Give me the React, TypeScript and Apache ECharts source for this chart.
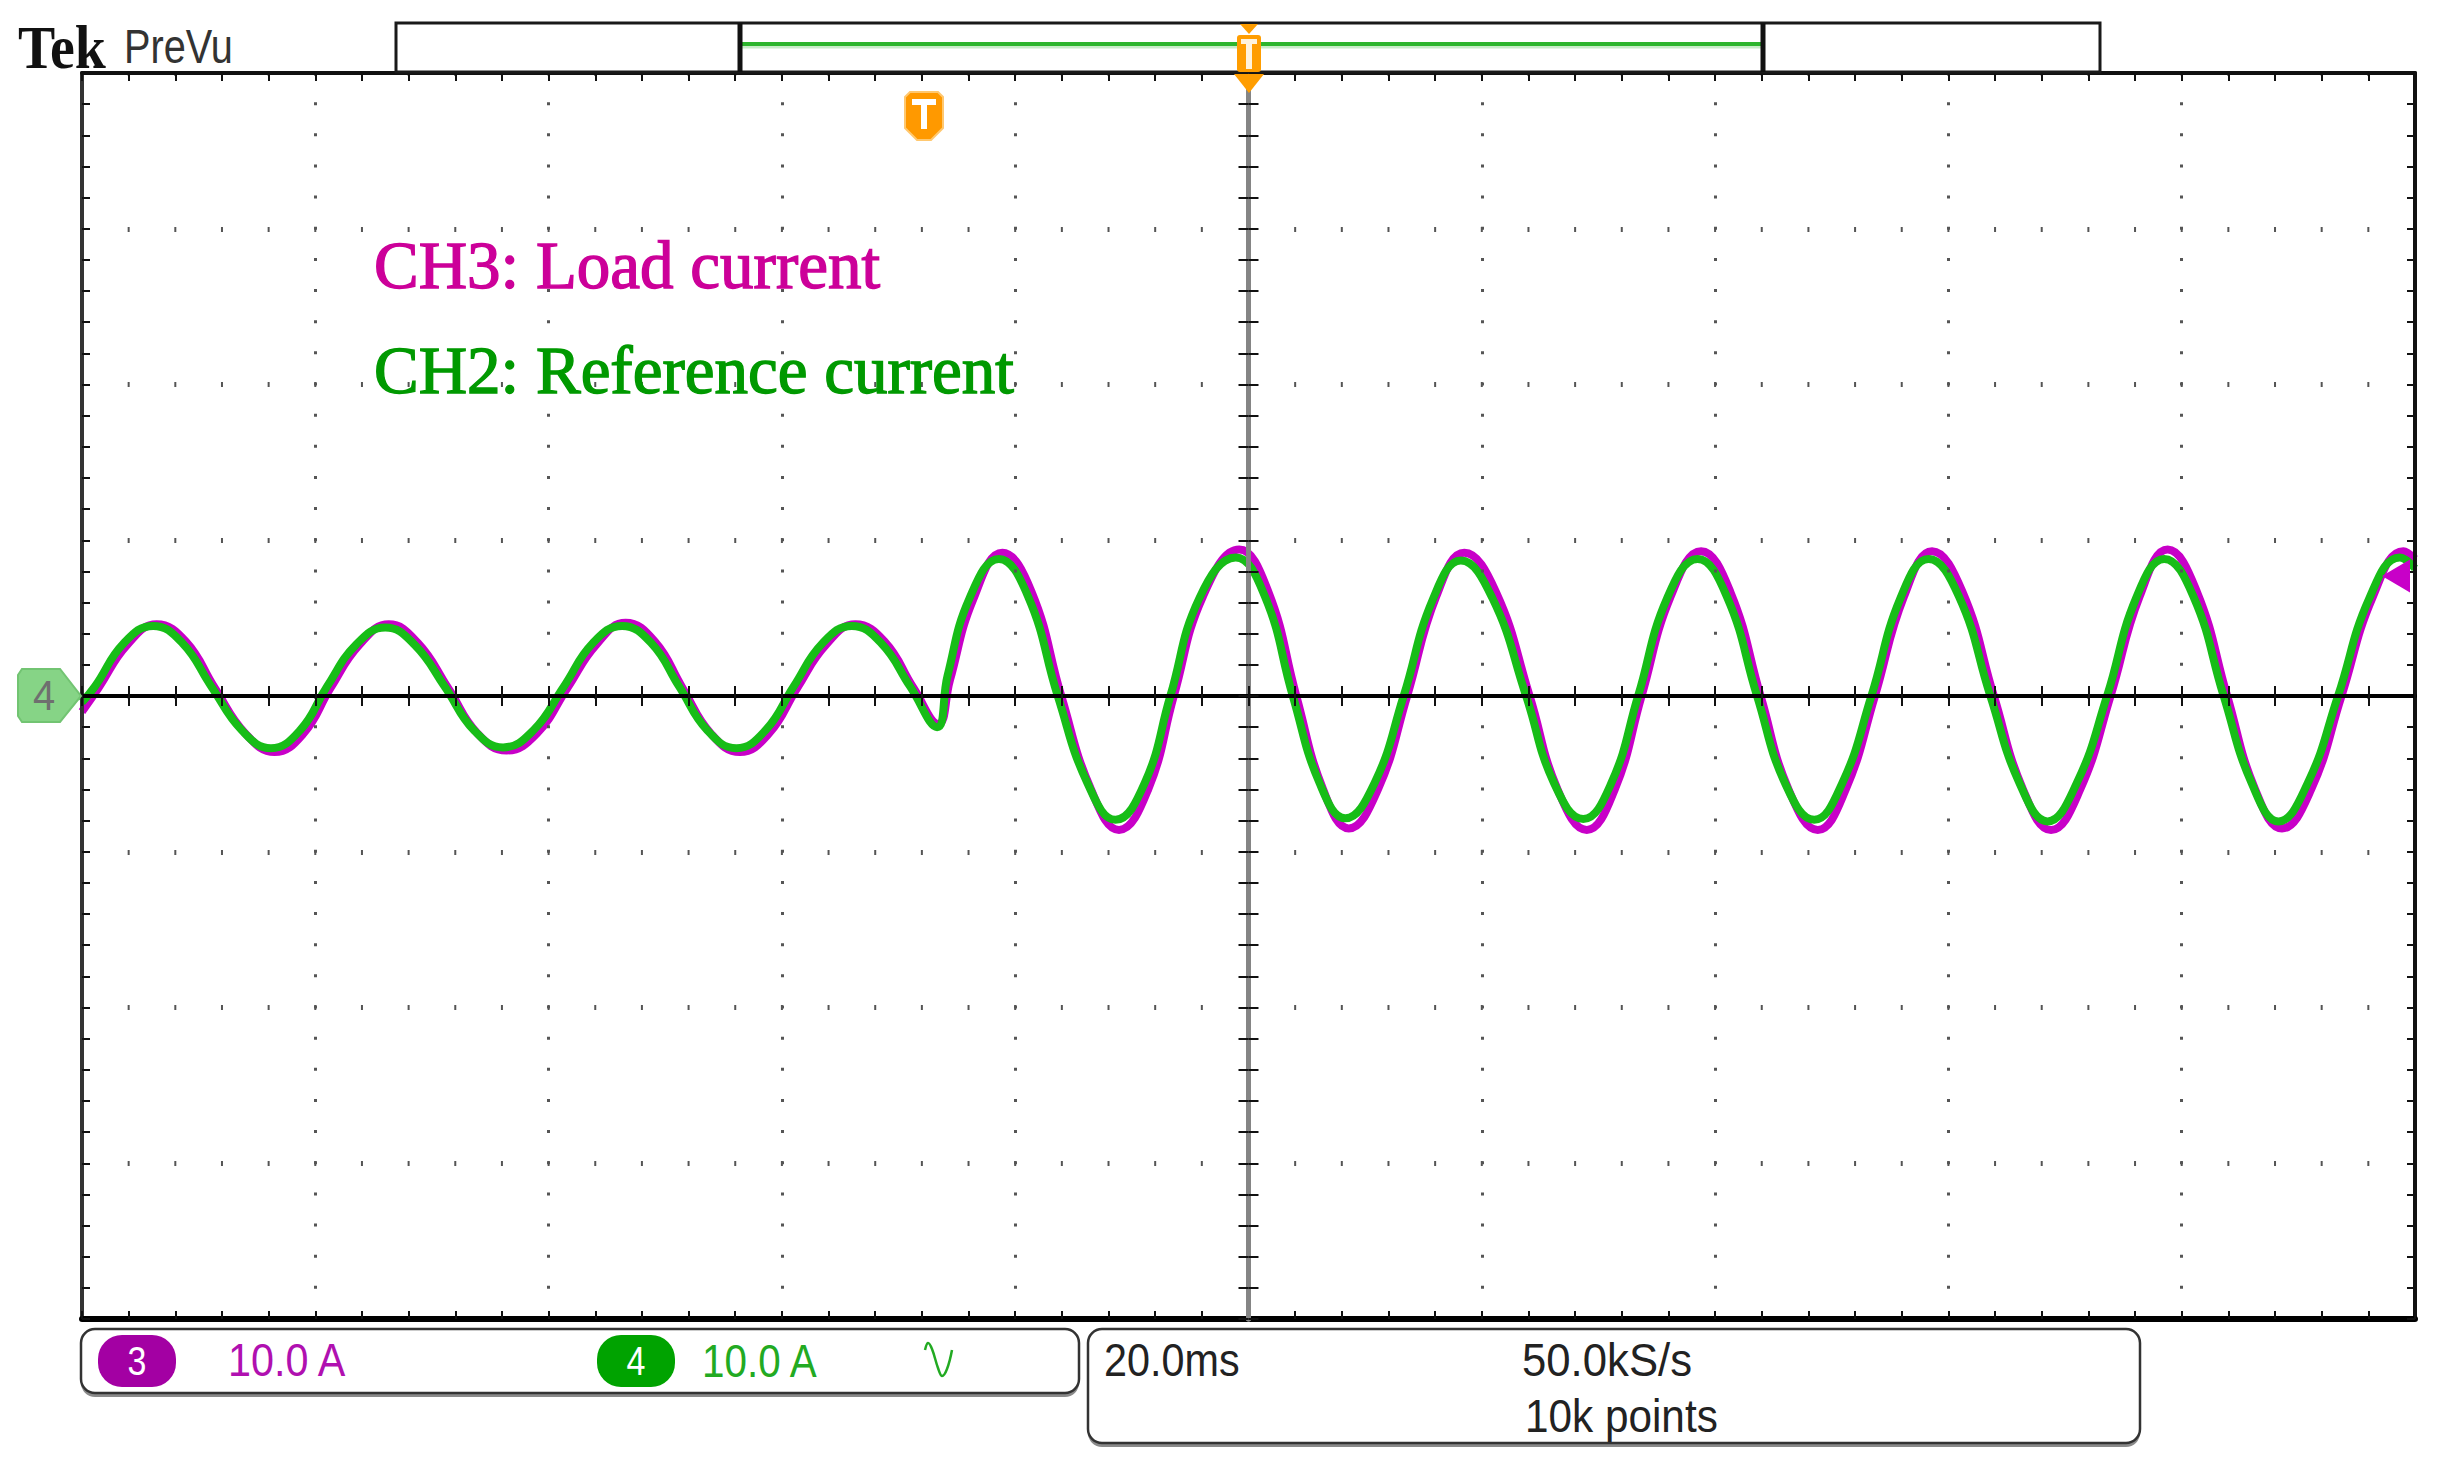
import React, { useEffect, useRef } from "react";
import * as echarts from "echarts";

// ---------- layout (pixels) ----------
const W = 2438;
const H = 1467;
const GRID = { left: 82, top: 73, width: 2333, height: 1246 };

// ---------- scales ----------
const X_MIN = -100; // ms relative to trigger (20.0 ms/div, 10 div)
const X_MAX = 100;
const X_DIV = 20;
const Y_MIN = -40; // A (10.0 A/div, 8 div)
const Y_MAX = 40;
const Y_DIV = 10;

// ---------- data: CH4 (green, reference current), time in ms from trigger, current in A ----------
const ch4Time = [
  -100.0, -98.9, -96.4, -93.9, -91.4, -88.9, -86.3, -83.8, -81.3, -79.0,
  -76.5, -74.0, -71.5, -68.9, -66.4, -63.9, -61.3, -58.7, -56.2, -53.7,
  -51.2, -48.8, -46.4, -43.9, -41.4, -39.0, -36.5, -34.0, -31.5, -29.0,
  -26.7, -25.8, -23.9, -21.4, -18.9, -16.35, -13.8, -11.4, -8.9, -6.7,
  -4.2, -1.1, 1.4, 3.8, 6.1, 8.3, 10.8, 13.3, 15.8, 18.2,
  20.9, 23.8, 26.2, 28.7, 31.1, 33.4, 35.9, 38.5, 41.0, 43.6,
  46.0, 48.5, 50.9, 53.4, 55.9, 58.3, 60.9, 63.6, 66.1, 68.5,
  71.0, 73.6, 76.1, 78.5, 81.0, 83.6, 86.0, 88.3, 90.8, 93.4,
  96.1, 98.7, 100.0,
];
const ch4Current = [
  -0.4, 0.6, 3.4, 4.5, 3.4, 0.6, -2.2, -3.35, -2.2, 0.6,
  3.3, 4.4, 3.3, 0.6, -2.2, -3.3, -2.2, 0.6, 3.4, 4.5,
  3.4, 0.6, -2.2, -3.35, -2.2, 0.6, 3.4, 4.5, 3.4, 0.6,
  -2.0, 1.3, 6.3, 8.8, 6.4, 0.0, -5.6, -7.95, -5.6, 0.0,
  6.3, 8.9, 6.4, 0.0, -5.6, -7.85, -5.6, 0.0, 6.2, 8.7,
  6.3, 0.0, -5.6, -7.9, -5.6, 0.0, 6.3, 8.8, 6.4, 0.0,
  -5.6, -7.95, -5.6, 0.0, 6.3, 8.8, 6.4, 0.0, -5.6, -8.05,
  -5.6, 0.0, 6.3, 8.8, 6.4, 0.0, -5.6, -8.05, -5.6, 0.0,
  6.3, 8.9, 8.2,
];

// ---------- data: CH3 (magenta, load current) ----------
const ch3Time = [
  -100.0, -98.6, -96.1, -93.6, -91.1, -88.6, -86.0, -83.5, -81.0, -78.7,
  -76.2, -73.7, -71.2, -68.6, -66.1, -63.6, -61.0, -58.4, -55.9, -53.4,
  -50.9, -48.5, -46.1, -43.6, -41.1, -38.7, -36.2, -33.7, -31.2, -28.7,
  -26.6, -25.6, -23.6, -21.1, -18.6, -16.05, -13.5, -11.1, -8.6, -6.4,
  -3.9, -0.8, 1.7, 4.1, 6.4, 8.6, 11.1, 13.6, 16.1, 18.5,
  21.2, 24.1, 26.5, 29.0, 31.4, 33.7, 36.2, 38.8, 41.3, 43.9,
  46.3, 48.8, 51.2, 53.7, 56.2, 58.6, 61.2, 63.9, 66.4, 68.8,
  71.3, 73.9, 76.4, 78.8, 81.3, 83.9, 86.3, 88.6, 91.1, 93.7,
  96.4, 99.0, 100.0,
];
const ch3Current = [
  -1.0, 0.5, 3.3, 4.6, 3.5, 0.5, -2.4, -3.6, -2.4, 0.5,
  3.3, 4.6, 3.4, 0.5, -2.4, -3.5, -2.4, 0.5, 3.3, 4.7,
  3.5, 0.5, -2.4, -3.6, -2.4, 0.5, 3.3, 4.6, 3.5, 0.5,
  -1.8, 1.0, 6.2, 9.2, 6.7, 0.0, -6.0, -8.6, -6.0, 0.0,
  6.4, 9.4, 6.7, 0.0, -6.0, -8.5, -6.0, 0.0, 6.4, 9.2,
  6.7, 0.0, -6.0, -8.6, -6.0, 0.0, 6.4, 9.3, 6.7, 0.0,
  -6.0, -8.6, -6.0, 0.0, 6.4, 9.3, 6.7, 0.0, -6.0, -8.6,
  -6.0, 0.0, 6.4, 9.4, 6.7, 0.0, -6.0, -8.5, -6.0, 0.0,
  6.4, 9.3, 8.8,
];
const ch3LevelA = 7.7; // CH3 level arrow at right edge

// ---------- texts ----------
const brandText = "Tek";
const modeText = "PreVu";
const ch3Label = "CH3: Load current";
const ch2Label = "CH2: Reference current";
const ch3Badge = "3";
const ch4Badge = "4";
const ch3Scale = "10.0 A";
const ch4Scale = "10.0 A";
const timeBase = "20.0ms";
const sampleRate = "50.0kS/s";
const recordLength = "10k points";

const MAGENTA = "#c800c8";
const GREEN = "#17bd17";
const SANS = '"Liberation Sans", Arial, sans-serif';
const SERIF = '"Liberation Serif", "Times New Roman", serif';

function txt(
  text: string,
  x: number,
  y: number,
  size: number,
  color: string,
  o: { sx?: number; family?: string; weight?: string; align?: string; stroke?: number } = {}
) {
  const align = o.align ?? "left";
  const style: any = {
    text,
    x: 0,
    y: 0,
    fill: color,
    fontSize: size,
    fontFamily: o.family ?? SANS,
    fontWeight: o.weight ?? "normal",
    align,
    verticalAlign: "middle",
    textAlign: align,
    textVerticalAlign: "middle",
  };
  if (o.stroke) {
    style.stroke = color;
    style.lineWidth = o.stroke;
  }
  return {
    type: "text",
    x,
    y,
    scaleX: o.sx ?? 1,
    z: 30,
    silent: true,
    style,
  };
}

function frameAxis(position: string, lineColor: string, lineWidth: number, split: any) {
  const isX = position === "bottom" || position === "top";
  return {
    type: "value",
    min: isX ? X_MIN : Y_MIN,
    max: isX ? X_MAX : Y_MAX,
    interval: isX ? X_DIV : Y_DIV,
    position,
    axisLine: { show: true, onZero: false, lineStyle: { color: lineColor, width: lineWidth } },
    axisTick: { show: true, inside: true, length: 8, lineStyle: { color: "#111", width: 2 } },
    minorTick: { show: true, splitNumber: 5, length: 8, lineStyle: { color: "#111", width: 2 } },
    axisLabel: { show: false },
    splitLine: split,
    minorSplitLine: { show: false },
    z: 4,
  };
}

function centerAxis(position: string, lineColor: string, lineWidth: number) {
  const isX = position === "bottom" || position === "top";
  return {
    type: "value",
    min: isX ? X_MIN : Y_MIN,
    max: isX ? X_MAX : Y_MAX,
    interval: isX ? X_DIV : Y_DIV,
    position,
    axisLine: {
      show: true,
      onZero: true,
      onZeroAxisIndex: 0,
      lineStyle: { color: lineColor, width: lineWidth },
    },
    axisTick: { show: true, inside: true, length: 10, lineStyle: { color: "#111", width: 2 } },
    minorTick: { show: true, splitNumber: 5, length: 10, lineStyle: { color: "#111", width: 2 } },
    axisLabel: { show: false },
    splitLine: { show: false },
    minorSplitLine: { show: false },
    z: 6,
  };
}

export default function App() {
  const ref = useRef<HTMLDivElement>(null);

  useEffect(() => {
    if (!ref.current) return;
    const chart = echarts.init(ref.current, null, { renderer: "svg", width: W, height: H });

    const stepY = GRID.height / 40; // minor vertical step
    const stepX = GRID.width / 50; // minor horizontal step

    const ch4Data = ch4Time.map((t, i) => [t, ch4Current[i]]);
    const ch3Data = ch3Time.map((t, i) => [t, ch3Current[i]]);

    const graphic: any[] = [
      // brand
      txt(brandText, 18, 47, 62, "#111", { family: SERIF, weight: "bold", sx: 0.9 }),
      txt(modeText, 124, 46, 49, "#333", { sx: 0.81 }),
      // top record bar
      {
        type: "rect", z: 20, silent: true,
        shape: { x: 396, y: 23, width: 1704, height: 49 },
        style: { fill: "#fff", stroke: "#1a1a1a", lineWidth: 3 },
      },
      {
        type: "line", z: 21, silent: true,
        shape: { x1: 742, y1: 47, x2: 1761, y2: 47 },
        style: { stroke: "#c8ecc8", lineWidth: 3 },
      },
      {
        type: "line", z: 21, silent: true,
        shape: { x1: 742, y1: 44, x2: 1761, y2: 44 },
        style: { stroke: "#2db52d", lineWidth: 4 },
      },
      {
        type: "line", z: 22, silent: true,
        shape: { x1: 740, y1: 23, x2: 740, y2: 72 },
        style: { stroke: "#111", lineWidth: 5 },
      },
      {
        type: "line", z: 22, silent: true,
        shape: { x1: 1763, y1: 23, x2: 1763, y2: 72 },
        style: { stroke: "#111", lineWidth: 5 },
      },
      // trigger marker in record bar
      {
        type: "polygon", z: 23, silent: true,
        shape: { points: [[1240, 24], [1258, 24], [1249, 34]] },
        style: { fill: "#ff9d00" },
      },
      {
        type: "rect", z: 23, silent: true,
        shape: { x: 1237, y: 35, width: 24, height: 37, r: 3 },
        style: { fill: "#ff9d00" },
      },
      {
        type: "rect", z: 24, silent: true,
        shape: { x: 1241, y: 39, width: 16, height: 5 },
        style: { fill: "#fff3dc" },
      },
      {
        type: "rect", z: 24, silent: true,
        shape: { x: 1246, y: 39, width: 6, height: 30 },
        style: { fill: "#fff3dc" },
      },
      {
        type: "polygon", z: 23, silent: true,
        shape: { points: [[1234, 74], [1264, 74], [1249, 93]] },
        style: { fill: "#ff9d00" },
      },
      // trigger "T" shield
      {
        type: "polygon", z: 23, silent: true,
        shape: {
          points: [[905, 97], [910, 92], [938, 92], [943, 97], [943, 128], [931, 140], [917, 140], [905, 128]],
        },
        style: { fill: "#ff9900", stroke: "#ffc870", lineWidth: 2 },
      },
      {
        type: "rect", z: 24, silent: true,
        shape: { x: 912, y: 99, width: 24, height: 6 },
        style: { fill: "#fff" },
      },
      {
        type: "rect", z: 24, silent: true,
        shape: { x: 921, y: 99, width: 6, height: 30 },
        style: { fill: "#fff" },
      },
      // channel 4 ground marker
      {
        type: "polygon", z: 23, silent: true,
        shape: { points: [[22, 669], [60, 669], [81, 696], [60, 722], [22, 722], [18, 716], [18, 675]] },
        style: { fill: "#86d486", stroke: "#72c472", lineWidth: 2 },
      },
      txt(ch4Badge, 44, 696, 42, "#6f6f6f", { align: "center", sx: 0.95 }),
      // annotation texts
      txt(ch3Label, 374, 265, 67, "#cc0099", { family: SERIF, stroke: 1.4 }),
      txt(ch2Label, 374, 370, 67, "#009900", { family: SERIF, stroke: 1.4 }),
      // bottom-left channel box
      {
        type: "rect", z: 19, silent: true,
        shape: { x: 81, y: 1333, width: 998, height: 64, r: 14 },
        style: { fill: "#8a8a8a" },
      },
      {
        type: "rect", z: 20, silent: true,
        shape: { x: 81, y: 1329, width: 998, height: 64, r: 14 },
        style: { fill: "#fff", stroke: "#333", lineWidth: 2.5 },
      },
      {
        type: "rect", z: 21, silent: true,
        shape: { x: 98, y: 1335, width: 78, height: 52, r: 24 },
        style: { fill: "#a300a3" },
      },
      txt(ch3Badge, 137, 1361, 40, "#fff", { align: "center", sx: 0.85 }),
      txt(ch3Scale, 228, 1360, 47, "#b010b0", { sx: 0.88 }),
      {
        type: "rect", z: 21, silent: true,
        shape: { x: 597, y: 1335, width: 78, height: 52, r: 24 },
        style: { fill: "#00a300" },
      },
      txt(ch4Badge, 636, 1361, 40, "#fff", { align: "center", sx: 0.85 }),
      txt(ch4Scale, 702, 1360, 47, "#22aa22", { sx: 0.86 }),
      {
        type: "polyline", z: 22, silent: true,
        shape: {
          points: [[925, 1350], [928, 1343], [932, 1349], [938, 1368], [942, 1376], [947, 1369], [952, 1350]],
          smooth: 0.4,
        },
        style: { stroke: "#22aa22", lineWidth: 2.5, fill: null },
      },
      // bottom-right timebase box
      {
        type: "rect", z: 19, silent: true,
        shape: { x: 1088, y: 1333, width: 1052, height: 114, r: 14 },
        style: { fill: "#8a8a8a" },
      },
      {
        type: "rect", z: 20, silent: true,
        shape: { x: 1088, y: 1329, width: 1052, height: 114, r: 14 },
        style: { fill: "#fff", stroke: "#333", lineWidth: 2.5 },
      },
      txt(timeBase, 1104, 1360, 47, "#222", { sx: 0.88 }),
      txt(sampleRate, 1522, 1360, 47, "#222", { sx: 0.93 }),
      txt(recordLength, 1525, 1416, 47, "#222", { sx: 0.9 }),
    ];

    chart.setOption({
      animation: false,
      backgroundColor: "#ffffff",
      grid: {
        left: GRID.left,
        top: GRID.top,
        width: GRID.width,
        height: GRID.height,
        containLabel: false,
        outerBoundsMode: "none",
        show: false,
      },
      xAxis: [
        frameAxis("bottom", "#000", 6, {
          show: true,
          lineStyle: { color: "#555", width: 3, type: [3, stepY - 3], dashOffset: 1.5 },
        }),
        frameAxis("top", "#111", 4, { show: false }),
        centerAxis("bottom", "#000", 4),
        centerAxis("top", "#000", 4),
      ],
      yAxis: [
        frameAxis("left", "#333", 4, {
          show: true,
          lineStyle: { color: "#555", width: 5, type: [2, stepX - 2], dashOffset: 1 },
        }),
        frameAxis("right", "#111", 4, { show: false }),
        centerAxis("left", "#858585", 5),
        centerAxis("right", "#858585", 5),
      ],
      series: [
        {
          name: "CH3",
          type: "line",
          xAxisIndex: 0,
          yAxisIndex: 0,
          data: ch3Data,
          smooth: 0.45,
          symbol: "none",
          silent: true,
          z: 3,
          lineStyle: { color: MAGENTA, width: 8 },
        },
        {
          name: "CH4",
          type: "line",
          xAxisIndex: 0,
          yAxisIndex: 0,
          data: ch4Data,
          smooth: 0.45,
          symbol: "none",
          silent: true,
          z: 3,
          lineStyle: { color: GREEN, width: 8 },
          markPoint: {
            silent: true,
            symbol: "triangle",
            symbolSize: [33, 28],
            symbolRotate: 90,
            symbolOffset: [-19, 0],
            itemStyle: { color: MAGENTA },
            label: { show: false },
            data: [{ coord: [X_MAX, ch3LevelA] }],
          },
        },
      ],
      graphic,
    });

    return () => chart.dispose();
  }, []);

  return (
    <div
      ref={ref}
      style={{ position: "fixed", left: 0, top: 0, width: W, height: H, background: "#fff" }}
    />
  );
}
